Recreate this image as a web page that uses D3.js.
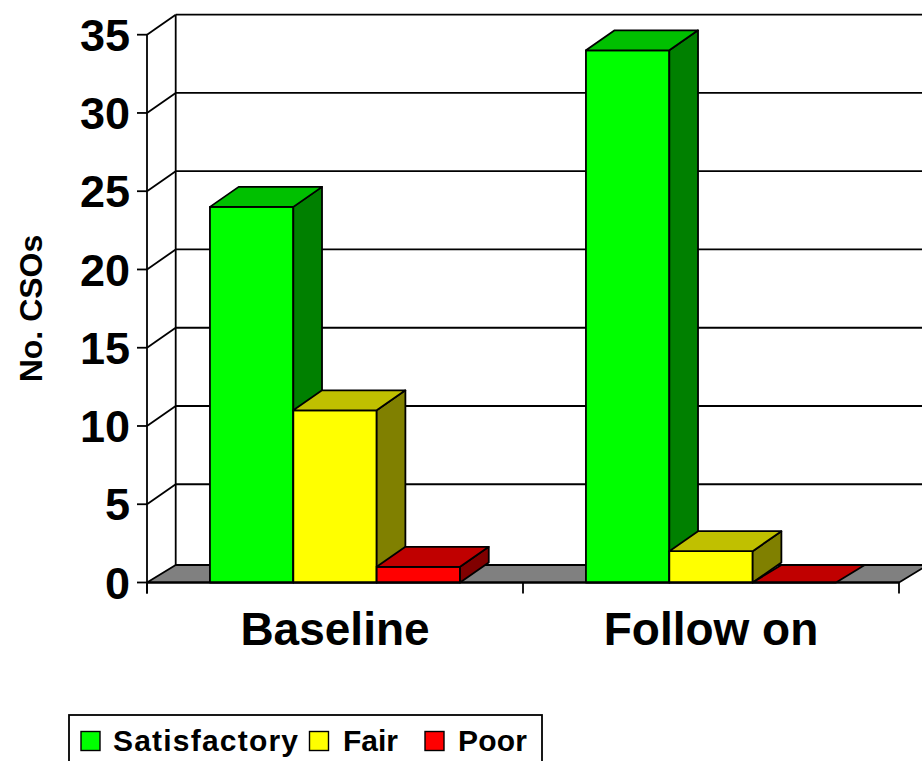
<!DOCTYPE html>
<html>
<head>
<meta charset="utf-8">
<script src="https://cdn.jsdelivr.net/npm/d3@7"></script>
<style>
  html, body { margin: 0; padding: 0; background: #fff; }
  svg { display: block; }
  text { font-family: "Liberation Sans", Arial, sans-serif; font-weight: bold; fill: #000; }
</style>
</head>
<body>
<script>
// Number of CSOs by rating, baseline vs follow-on survey
const categories = ["Baseline", "Follow on"];
const series = ["Satisfactory", "Fair", "Poor"];
const satisfactory = [24, 34];
const fair = [11, 2];
const poor = [1, 0];
const yTicks = [0, 5, 10, 15, 20, 25, 30, 35];

// face colours per series: front, top, side
const frontColors = ["#00FF00", "#FFFF00", "#FF0000"];
const topColors = ["#00C000", "#C0C000", "#C00000"];
const sideColors = ["#008000", "#808000", "#800000"];

const values = [satisfactory, fair, poor];

const W = 922, H = 761;
const svg = d3.select("body").append("svg").attr("width", W).attr("height", H);

// front plane of the 3D box and depth offset
const x0 = 147, x1 = 899;
const DX = 28.7, DY = 20;     // wall / bar depth
const FDY = 17.5;             // floor depth
const y = d3.scaleLinear().domain([0, 35]).range([582.5, 34.7]);
const y0 = y(0);

const xCat = d3.scaleBand().domain(categories).range([x0, x1]).padding(0);
const xSer = d3.scaleBand().domain(series).range([0, xCat.bandwidth()])
  .paddingInner(0).paddingOuter(0.755);

const SW = 1.8;
const line = (a, b, c, d) => svg.append("line")
  .attr("x1", a).attr("y1", b).attr("x2", c).attr("y2", d)
  .attr("stroke", "#000").attr("stroke-width", SW);

// back wall gridlines and side wall diagonals
yTicks.filter(t => t > 0).forEach(t => {
  line(x0 + DX, y(t) - DY, x1 + DX + 10, y(t) - DY);
  line(x0, y(t), x0 + DX, y(t) - DY);
});
// back wall left edge
line(x0 + DX, y(35) - DY, x0 + DX, y0 - FDY);

// floor
svg.append("polygon")
  .attr("points", [[x0, y0], [x1, y0], [x1 + DX, y0 - FDY], [x0 + DX, y0 - FDY]].map(p => p.join(",")).join(" "))
  .attr("fill", "#808080").attr("stroke", "#000").attr("stroke-width", SW)
  .attr("stroke-linejoin", "round");

// bars, left to right so each bar covers the side face of its neighbour
const pts = arr => arr.map(p => p.join(",")).join(" ");
categories.forEach((cat, ci) => {
  series.forEach((s, si) => {
    const v = values[si][ci];
    const xl = xCat(cat) + xSer(s);
    const xr = xl + xSer.bandwidth();
    const yt = y(v);
    const g = svg.append("g")
      .attr("stroke", "#000").attr("stroke-width", SW).attr("stroke-linejoin", "round");
    if (v > 0) {
      g.append("polygon").attr("points", pts([[xl, y0], [xr, y0], [xr, yt], [xl, yt]]))
        .attr("fill", frontColors[si]);
      g.append("polygon").attr("points", pts([[xr, y0], [xr + DX, y0 - DY], [xr + DX, yt - DY], [xr, yt]]))
        .attr("fill", sideColors[si]);
    }
    const tdy = v > 0 ? DY : FDY;
    g.append("polygon").attr("points", pts([[xl, yt], [xr, yt], [xr + DX, yt - tdy], [xl + DX, yt - tdy]]))
      .attr("fill", topColors[si]);
  });
});

// value axis
line(x0, y(35), x0, y0 + 11);
yTicks.forEach(t => {
  line(x0 - 10, y(t), x0, y(t));
  svg.append("text").attr("x", 130).attr("y", y(t)).attr("dy", "0.36em")
    .attr("text-anchor", "end").attr("font-size", 45).text(t);
});

// category axis
line(x0, y0, x1, y0);
[x0, x0 + xCat.step(), x1].forEach(xx => line(xx, y0, xx, y0 + 11));
categories.forEach(cat => {
  svg.append("text").attr("x", xCat(cat) + xCat.bandwidth() / 2).attr("y", 645)
    .attr("text-anchor", "middle").attr("font-size", 46).text(cat);
});

// axis title
svg.append("text").attr("transform", "translate(42,308.5) rotate(-90)")
  .attr("text-anchor", "middle").attr("font-size", 32).text("No. CSOs");

// legend
svg.append("rect").attr("x", 69).attr("y", 715).attr("width", 473).attr("height", 70)
  .attr("fill", "#fff").attr("stroke", "#000").attr("stroke-width", SW);
const legendSwatchX = [81, 309.5, 425];
const legendTextX = [113, 343, 458];
const legendTextW = [185, 55, 69];
series.forEach((s, i) => {
  svg.append("rect").attr("x", legendSwatchX[i]).attr("y", 731.5).attr("width", 19).attr("height", 19)
    .attr("fill", frontColors[i]).attr("stroke", "#000").attr("stroke-width", 1.4);
  svg.append("text").attr("x", legendTextX[i]).attr("y", 751).attr("font-size", 30)
    .attr("textLength", legendTextW[i]).attr("lengthAdjust", "spacing").text(s);
});
</script>
</body>
</html>
